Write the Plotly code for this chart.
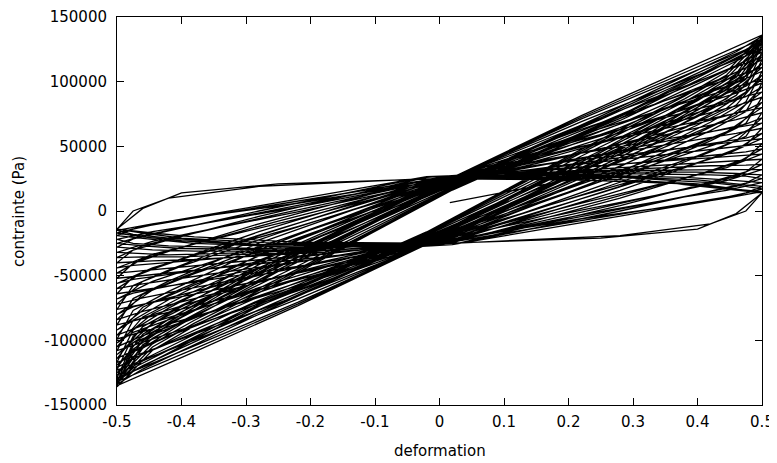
import plotly.graph_objects as go

# strain sample points of each half cycle (three sampling phases that alternate)
X_DEC = [
    [0.5, 0.46, 0.4, 0.25, 0.0, -0.25, -0.4, -0.46, -0.5],
    [0.5, 0.475, 0.42, 0.28, 0.02, -0.22, -0.38, -0.445, -0.5],
    [0.5, 0.445, 0.38, 0.22, -0.02, -0.28, -0.42, -0.475, -0.5],
]
X_INC = [
    [-0.5, -0.46, -0.4, -0.25, 0.0, 0.25, 0.4, 0.46, 0.5],
    [-0.5, -0.475, -0.42, -0.28, -0.02, 0.22, 0.38, 0.445, 0.5],
    [-0.5, -0.445, -0.38, -0.22, 0.02, 0.28, 0.42, 0.475, 0.5],
]

# initial loading ramp
INIT_X = [0.016, 0.2, 0.35, 0.5]
INIT_Y = [6.5, 24, 22, 14]          # kPa

# stress (kPa) on the unloading branch of each cycle
DEC = [
    [14, -2, -14, -21, -25, -25, -21, -17, -14],
    [14, 0, -10, -19, -25, -24, -20, -17, -14],
    [15, 10, 5, -6, -25, -26, -21, -18, -15],
    [17, 12, 7, -5, -25.5, -27, -23, -20, -17],
    [19, 14, 8, -4, -26, -28, -25, -22, -19],
    [22, 16, 11, -3, -26.5, -29, -27, -25, -22],
    [25, 19, 13, -1.5, -25, -30, -29, -27, -25],
    [28, 21.6, 15.3, 0, -26, -31, -31, -30, -28],
    [32, 23.4, 16.6, 0.6, -24.5, -32, -34, -33, -32],
    [36, 26.8, 19.5, 2.4, -25.5, -32.5, -35.5, -35.5, -36],
    [40, 30.2, 22.4, 4.2, -26, -33, -37.5, -38.5, -40],
    [44, 33.6, 25.4, 6, -25, -34.1, -39.8, -42.1, -44],
    [48, 37, 28.3, 7.8, -24.5, -36, -42.9, -45.7, -48],
    [52, 40.5, 31.3, 9.9, -24.5, -37.7, -46, -49.3, -52],
    [56, 44, 34.4, 12, -24, -39.4, -49, -52.8, -56],
    [60, 47.4, 37.4, 14, -23.7, -41.1, -52, -56.4, -60],
    [64, 50.9, 40.4, 16, -23.3, -42.8, -55, -59.9, -64],
    [68, 54.4, 43.5, 18, -22.9, -44.5, -58.1, -63.5, -68],
    [72, 54.4, 42.7, 17.2, -22.5, -46.3, -61.1, -67.1, -72],
    [76, 57.7, 45.6, 19, -22.2, -48, -64.2, -70.6, -76],
    [80, 61.1, 48.4, 21, -21.8, -49.7, -67.2, -74.2, -80],
    [84, 64.4, 51.3, 22.9, -21.4, -51.4, -70.2, -77.7, -84],
    [88, 67.7, 54.2, 24.8, -21, -53.2, -73.3, -81.3, -88],
    [92, 71.1, 57.1, 26.7, -20.6, -54.9, -76.3, -84.9, -92],
    [96, 74.4, 60, 28.6, -20.2, -56.6, -79.3, -88.4, -96],
    [99, 76.9, 62.1, 30, -19.9, -57.9, -81.6, -91.1, -99],
    [102, 79.4, 64.3, 31.5, -19.6, -59.2, -83.9, -93.8, -102],
    [105, 81.9, 66.5, 32.9, -19.3, -60.4, -86.1, -96.4, -105],
    [108, 84.4, 68.6, 34.3, -19, -61.7, -88.4, -99.1, -108],
    [111, 86.9, 70.8, 35.8, -18.7, -63, -90.7, -101.8, -111],
    [114, 89.4, 73, 37.2, -18.4, -64.3, -93, -104.4, -114],
    [117, 91.9, 75.1, 38.6, -18.1, -65.6, -95.2, -107.1, -117],
    [119, 93.5, 76.6, 39.6, -17.9, -66.4, -96.8, -108.9, -119],
    [121, 95.2, 78, 40.6, -17.7, -67.3, -98.3, -110.7, -121],
    [123, 96.9, 79.4, 41.5, -17.5, -68.1, -99.8, -112.5, -123],
    [125, 98.5, 80.9, 42.5, -17.3, -69, -101.3, -114.2, -125],
    [127, 100.2, 82.3, 43.4, -17.1, -69.9, -102.8, -116, -127],
    [129, 101.9, 83.8, 44.4, -16.9, -70.7, -104.3, -117.8, -129],
    [130, 102.7, 84.5, 44.9, -16.8, -71.1, -105.1, -118.7, -130],
    [131, 103.5, 85.2, 45.3, -16.7, -71.6, -105.9, -119.6, -131],
    [132, 104.4, 85.9, 45.8, -16.6, -72, -106.6, -120.5, -132],
    [133, 105.2, 86.7, 46.3, -16.5, -72.4, -107.4, -121.4, -133],
    [134, 106, 87.4, 46.8, -16.4, -72.8, -108.1, -122.2, -134],
    [135, 106.9, 88.1, 47.2, -16.3, -73.3, -108.9, -123.1, -135],
    [136, 107.7, 88.8, 47.7, -16.2, -73.7, -109.6, -124, -136],
]

# stress (kPa) on the loading branch of each cycle
INC = [
    [-14, 2, 14, 21, 25, 25, 21, 17, 14],
    [-14, 0, 10, 19, 25, 24, 21, 17.5, 15],
    [-15, -10, -5, 6, 25, 26, 22, 19, 17],
    [-17, -12, -7, 5, 25.5, 27, 24, 21, 19],
    [-19, -14, -8, 4, 26.5, 28, 26, 24, 22],
    [-22, -16, -11, 3, 26, 29, 28, 27, 25],
    [-25, -19, -13, 1.5, 25.5, 30, 30, 29, 28],
    [-28, -21.6, -15.3, 0, 26.5, 31, 32, 32, 32],
    [-32, -23.4, -16.6, -0.6, 25, 32, 35, 35.5, 36],
    [-36, -26.8, -19.5, -2.4, 24.5, 32.5, 37, 38.5, 40],
    [-40, -30.2, -22.4, -4.2, 26, 34.1, 39.8, 42.1, 44],
    [-44, -33.6, -25.4, -6, 25.5, 36, 42.9, 45.7, 48],
    [-48, -37, -28.3, -7.8, 24, 38, 46.1, 49.3, 52],
    [-52, -40.5, -31.3, -9.9, 24.5, 39.6, 49.1, 52.9, 56],
    [-56, -44, -34.4, -12, 24, 41.3, 52.1, 56.4, 60],
    [-60, -47.4, -37.4, -14, 23.7, 43, 55.1, 60, 64],
    [-64, -50.9, -40.4, -16, 23.3, 44.8, 58.2, 63.5, 68],
    [-68, -54.4, -43.5, -18, 22.9, 46.5, 61.2, 67.1, 72],
    [-72, -54.4, -42.7, -17.2, 22.5, 48.2, 64.2, 70.7, 76],
    [-76, -57.7, -45.6, -19, 22.2, 49.9, 67.3, 74.2, 80],
    [-80, -61.1, -48.4, -21, 21.8, 51.7, 70.3, 77.8, 84],
    [-84, -64.4, -51.3, -22.9, 21.4, 53.4, 73.3, 81.3, 88],
    [-88, -67.7, -54.2, -24.8, 21, 55.1, 76.4, 84.9, 92],
    [-92, -71.1, -57.1, -26.7, 20.6, 56.8, 79.4, 88.5, 96],
    [-96, -74.4, -60, -28.6, 20.2, 58, 81.7, 91.1, 99],
    [-99, -76.9, -62.1, -30, 19.9, 59.3, 83.9, 93.8, 102],
    [-102, -79.4, -64.3, -31.5, 19.6, 60.6, 86.2, 96.5, 105],
    [-105, -81.9, -66.5, -32.9, 19.3, 61.9, 88.5, 99.1, 108],
    [-108, -84.4, -68.6, -34.3, 19, 63.2, 90.8, 101.8, 111],
    [-111, -86.9, -70.8, -35.8, 18.7, 64.4, 93, 104.5, 114],
    [-114, -89.4, -73, -37.2, 18.4, 65.7, 95.3, 107.1, 117],
    [-117, -91.9, -75.1, -38.6, 18.1, 66.5, 96.8, 108.9, 119],
    [-119, -93.5, -76.6, -39.6, 17.9, 67.4, 98.3, 110.7, 121],
    [-121, -95.2, -78, -40.6, 17.7, 68.2, 99.8, 112.5, 123],
    [-123, -96.9, -79.4, -41.5, 17.5, 69.1, 101.4, 114.3, 125],
    [-125, -98.5, -80.9, -42.5, 17.3, 70, 102.9, 116, 127],
    [-127, -100.2, -82.3, -43.4, 17.1, 70.8, 104.4, 117.8, 129],
    [-129, -101.9, -83.8, -44.4, 16.9, 71.2, 105.1, 118.7, 130],
    [-130, -102.7, -84.5, -44.9, 16.8, 71.6, 105.9, 119.6, 131],
    [-131, -103.5, -85.2, -45.3, 16.7, 72, 106.6, 120.5, 132],
    [-132, -104.4, -85.9, -45.8, 16.6, 72.5, 107.4, 121.4, 133],
    [-133, -105.2, -86.7, -46.3, 16.5, 72.9, 108.2, 122.3, 134],
    [-134, -106, -87.4, -46.8, 16.4, 73.3, 108.9, 123.1, 135],
    [-135, -106.9, -88.1, -47.2, 16.3, 73.8, 109.7, 124, 136],
    [-136, -107.7, -88.8, -47.7, 16.2, 73.7, 109.6, 124, 136],
]

X_TICKS = [-0.5, -0.4, -0.3, -0.2, -0.1, 0, 0.1, 0.2, 0.3, 0.4, 0.5]
X_TICK_TEXT = ["-0.5", "-0.4", "-0.3", "-0.2", "-0.1", "0", "0.1", "0.2", "0.3", "0.4", "0.5"]
Y_TICKS = [-150000, -100000, -50000, 0, 50000, 100000, 150000]
Y_TICK_TEXT = ["-150000", "-100000", "-50000", "0", "50000", "100000", "150000"]

xs = list(INIT_X)
ys = [v * 1000 for v in INIT_Y]
for k, (dec, inc) in enumerate(zip(DEC, INC)):
    gd = X_DEC[k % 3]
    gi = X_INC[k % 3]
    xs += gd[1:]
    ys += [v * 1000 for v in dec[1:]]
    xs += gi[1:]
    ys += [v * 1000 for v in inc[1:]]

fig = go.Figure()
fig.add_trace(go.Scatter(x=xs, y=ys, mode="lines",
                         line=dict(color="black", width=1.3), showlegend=False,
                         hoverinfo="skip"))

font = dict(family="DejaVu Sans", size=15, color="black")
axis_common = dict(showline=True, linecolor="black", linewidth=1, mirror="ticks",
                   ticks="inside", ticklen=7, tickcolor="black", tickwidth=1,
                   showgrid=False, zeroline=False, tickfont=font, automargin=False,
                   ticklabeloverflow="allow")
fig.update_xaxes(range=[-0.5, 0.5], tickvals=X_TICKS, ticktext=X_TICK_TEXT,
                 ticklabelstandoff=3, **axis_common)
fig.update_yaxes(range=[-150000, 150000], tickvals=Y_TICKS, ticktext=Y_TICK_TEXT,
                 ticklabelstandoff=6, **axis_common)
# the page adds an 8 px body margin, so the figure is 8 px smaller on each axis
fig.update_layout(
    width=769, height=455, margin=dict(l=109, r=15, t=9, b=58),
    paper_bgcolor="white", plot_bgcolor="white", font=font,
    annotations=[
        dict(text="deformation", xref="paper", yref="paper", x=0.5, y=-0.118,
             xanchor="center", yanchor="middle", showarrow=False, font=font),
        dict(text="contrainte (Pa)", xref="paper", yref="paper", x=-0.152, y=0.5,
             xanchor="center", yanchor="middle", textangle=-90, showarrow=False, font=font),
    ],
)
fig.write_html("out.html")
